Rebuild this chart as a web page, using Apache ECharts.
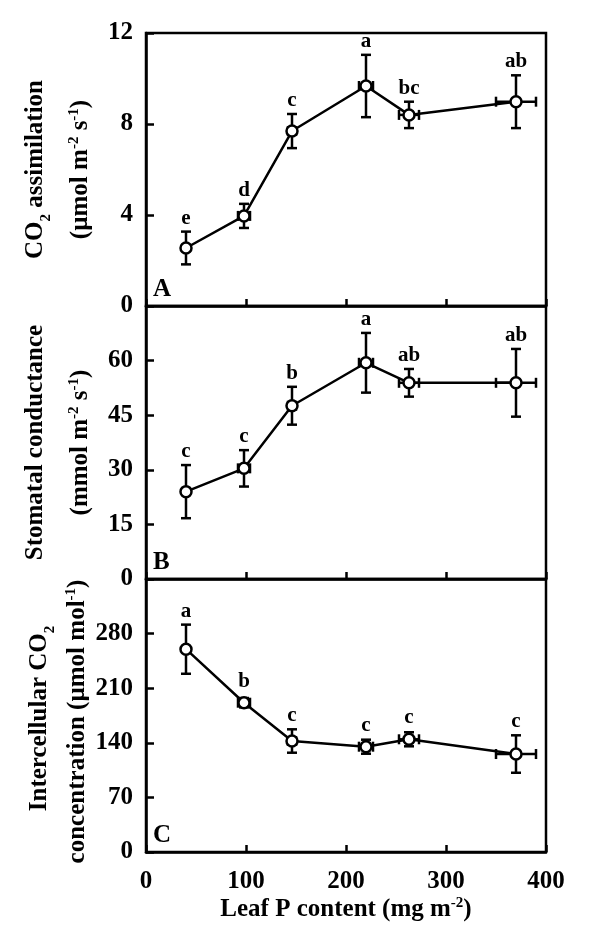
<!DOCTYPE html>
<html><head><meta charset="utf-8">
<script src="https://cdn.jsdelivr.net/npm/echarts@6/dist/echarts.min.js"></script>
<style>html,body{margin:0;padding:0;background:#fff}#c{width:600px;height:941px}</style>
</head><body><div id="c"></div>
<script>
// ---- data ----
const leafP = [40, 98, 146, 220, 263, 370];
const leafPErr = [2, 6, 4, 7, 10, 20];
const co2Assim = [2.55, 3.96, 7.69, 9.67, 8.40, 8.98];
const co2AssimErr = [0.72, 0.53, 0.75, 1.37, 0.58, 1.16];
const co2AssimLetters = ['e', 'd', 'c', 'a', 'bc', 'ab'];
const stomCond = [24.0, 30.4, 47.6, 59.4, 53.9, 53.9];
const stomCondErr = [7.3, 5.0, 5.2, 8.2, 3.8, 9.3];
const stomCondLetters = ['c', 'c', 'b', 'a', 'ab', 'ab'];
const ciConc = [260, 191.4, 142.3, 135, 144.5, 125.6];
const ciConcErr = [31.5, 6, 15, 9, 9, 24];
const ciConcLetters = ['a', 'b', 'c', 'c', 'c', 'c'];
const xTicks = [0, 100, 200, 300, 400];
const yTicksA = [0, 4, 8, 12];
const yTicksB = [0, 15, 30, 45, 60];
const yTicksC = [0, 70, 140, 210, 280];

const FONT = 'Liberation Serif';
const chart = echarts.init(document.getElementById('c'), null, {renderer: 'canvas'});

const panels = [
  {y: co2Assim, e: co2AssimErr, L: co2AssimLetters, max: 12, interval: 4, ticks: yTicksA},
  {y: stomCond, e: stomCondErr, L: stomCondLetters, max: 75, interval: 15, ticks: yTicksB},
  {y: ciConc, e: ciConcErr, L: ciConcLetters, max: 350, interval: 70, ticks: yTicksC}
];
const gridTop = [33, 306, 579];
const gridH = 273;

const grids = gridTop.map(t => ({left: 146, width: 400, top: t, height: gridH,
  show: true, borderColor: '#000', borderWidth: 2.5, backgroundColor: 'transparent'}));

const xAxes = panels.map((p, i) => ({
  type: 'value', gridIndex: i, min: 0, max: 400, interval: 100,
  axisLine: {show: true, lineStyle: {color: '#000', width: 2.5}},
  axisTick: {show: true, inside: true, length: 7, lineStyle: {color: '#000', width: 2.5}},
  splitLine: {show: false},
  axisLabel: {show: i === 2, margin: 17, color: '#000', fontFamily: FONT, fontWeight: 'bold', fontSize: 25,
    formatter: v => xTicks.includes(v) ? String(v) : ''},
  name: i === 2 ? '{t|Leaf P content (mg m}{sup|-2}{t|)}' : '',
  nameLocation: 'middle', nameGap: 44,
  nameTextStyle: {rich: {
    t: {fontFamily: FONT, fontWeight: 'bold', fontSize: 25, color: '#000', lineHeight: 28},
    sup: {fontFamily: FONT, fontWeight: 'bold', fontSize: 15, color: '#000', verticalAlign: 'top', lineHeight: 16}
  }}
}));

const yAxes = panels.map((p, i) => ({
  type: 'value', gridIndex: i, min: 0, max: p.max, interval: p.interval,
  axisLine: {show: true, lineStyle: {color: '#000', width: 2.5}},
  axisTick: {show: true, inside: true, length: 8, lineStyle: {color: '#000', width: 2.5}},
  splitLine: {show: false},
  axisLabel: {show: true, margin: 13, color: '#000', fontFamily: FONT, fontWeight: 'bold', fontSize: 25,
    formatter: v => p.ticks.includes(v) ? String(v) : ''}
}));

const series = [];
panels.forEach((p, i) => {
  const data = leafP.map((x, k) => [x, p.y[k], leafPErr[k], p.e[k]]);
  series.push({
    type: 'custom', xAxisIndex: i, yAxisIndex: i, z: 2, clip: false,
    data: data,
    renderItem: (params, api) => {
      const x = api.value(0), y = api.value(1), ex = api.value(2), ey = api.value(3);
      const c = api.coord([x, y]);
      const top = api.coord([x, y + ey]);
      const bot = api.coord([x, y - ey]);
      const l = api.coord([x - ex, y]);
      const r = api.coord([x + ex, y]);
      const st = {stroke: '#000', lineWidth: 2.5};
      const cap = 5;
      const letterBottom = Math.min(top[1], c[1] - 8) - 3;
      return {type: 'group', children: [
        {type: 'line', shape: {x1: c[0], y1: top[1], x2: c[0], y2: bot[1]}, style: st},
        {type: 'line', shape: {x1: c[0] - cap, y1: top[1], x2: c[0] + cap, y2: top[1]}, style: st},
        {type: 'line', shape: {x1: c[0] - cap, y1: bot[1], x2: c[0] + cap, y2: bot[1]}, style: st},
        {type: 'line', shape: {x1: l[0], y1: c[1], x2: r[0], y2: c[1]}, style: st},
        {type: 'line', shape: {x1: l[0], y1: c[1] - cap, x2: l[0], y2: c[1] + cap}, style: st},
        {type: 'line', shape: {x1: r[0], y1: c[1] - cap, x2: r[0], y2: c[1] + cap}, style: st},
        {type: 'text', x: c[0], y: letterBottom, style: {text: p.L[params.dataIndex], fill: '#000',
          font: 'bold 21px "' + FONT + '"', align: 'center', verticalAlign: 'bottom'}}
      ]};
    }
  });
  series.push({
    type: 'line', xAxisIndex: i, yAxisIndex: i, z: 3,
    data: leafP.map((x, k) => [x, p.y[k]]),
    lineStyle: {color: '#000', width: 2.5},
    symbol: 'circle', symbolSize: 11,
    itemStyle: {color: '#fff', borderColor: '#000', borderWidth: 2.5},
    emphasis: {disabled: true}, animation: false
  });
});

const richY = {
  t: {fontFamily: FONT, fontWeight: 'bold', fontSize: 25, fill: '#000', lineHeight: 28},
  sup: {fontFamily: FONT, fontWeight: 'bold', fontSize: 15, fill: '#000', verticalAlign: 'top', lineHeight: 16},
  sub: {fontFamily: FONT, fontWeight: 'bold', fontSize: 15, fill: '#000', verticalAlign: 'bottom', lineHeight: 16, padding: [0, 0, -4, 0]}
};
function yTitle(text, x, y) {
  return {type: 'text', x: x, y: y, rotation: Math.PI / 2,
    style: {text: text, rich: richY, align: 'center', verticalAlign: 'middle', fill: '#000',
      font: 'bold 25px "' + FONT + '"'}};
}
function panelLabel(text, bottom) {
  return {type: 'text', x: 153, y: bottom, style: {text: text, fill: '#000',
    font: 'bold 25px "' + FONT + '"', align: 'left', verticalAlign: 'bottom'}};
}
const cA = gridTop[0] + gridH / 2, cB = gridTop[1] + gridH / 2, cC = gridTop[2] + gridH / 2;

chart.setOption({
  animation: false,
  backgroundColor: '#fff',
  grid: grids,
  xAxis: xAxes,
  yAxis: yAxes,
  series: series,
  graphic: [
    yTitle('{t|CO}{sub|2}{t| assimilation}', 36, cA),
    yTitle('{t|(µmol m}{sup|-2}{t| s}{sup|-1}{t|)}', 81, cA),
    yTitle('{t|Stomatal conductance}', 36, cB),
    yTitle('{t|(mmol m}{sup|-2}{t| s}{sup|-1}{t|)}', 81, cB),
    yTitle('{t|Intercellular CO}{sub|2}', 40, cC + 3),
    yTitle('{t|concentration (µmol mol}{sup|-1}{t|)}', 78, cC + 6),
    panelLabel('A', gridTop[0] + gridH - 4),
    panelLabel('B', gridTop[1] + gridH - 4),
    panelLabel('C', gridTop[2] + gridH - 4)
  ]
});
</script></body></html>
